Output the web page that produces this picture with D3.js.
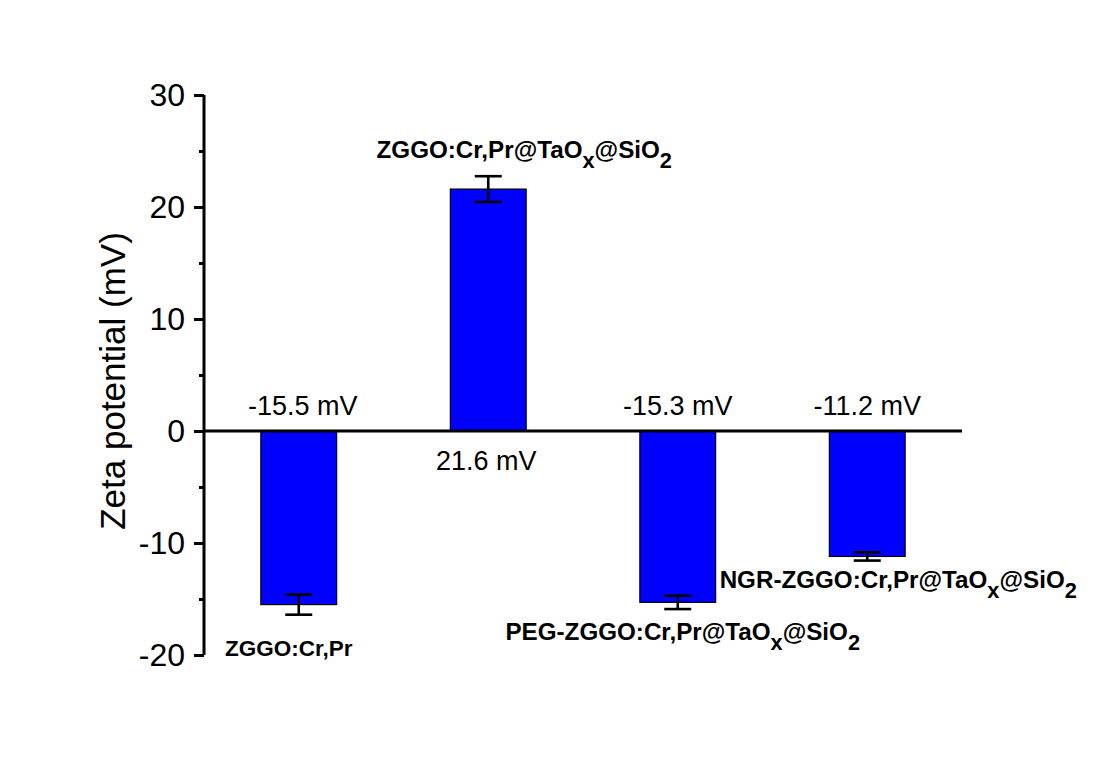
<!DOCTYPE html>
<html>
<head>
<meta charset="utf-8">
<script src="https://cdn.jsdelivr.net/npm/d3@7"></script>
<style>
  html, body { margin: 0; padding: 0; background: #fff; }
  svg { display: block; }
  text { font-family: "Liberation Sans", Arial, sans-serif; }
</style>
</head>
<body>
<svg id="chart" width="1100" height="774"></svg>
<script>
// ---- data ----
const categories = ["ZGGO:Cr,Pr", "ZGGO:Cr,Pr@TaOx@SiO2", "PEG-ZGGO:Cr,Pr@TaOx@SiO2", "NGR-ZGGO:Cr,Pr@TaOx@SiO2"];
const values = [-15.5, 21.6, -15.3, -11.2];
const errors = [0.9, 1.15, 0.6, 0.37];
const valueLabels = ["-15.5 mV", "21.6 mV", "-15.3 mV", "-11.2 mV"];
// category label parts: [text, isSubscript]
const categoryParts = [
  [["ZGGO:Cr,Pr", false]],
  [["ZGGO:Cr,Pr@TaO", false], ["x", true], ["@SiO", false], ["2", true]],
  [["PEG-ZGGO:Cr,Pr@TaO", false], ["x", true], ["@SiO", false], ["2", true]],
  [["NGR-ZGGO:Cr,Pr@TaO", false], ["x", true], ["@SiO", false], ["2", true]]
];
const yMajorTicks = [-20, -10, 0, 10, 20, 30];
const yMinorTicks = [-15, -5, 5, 15, 25];
const yTitle = "Zeta potential (mV)";

// ---- layout ----
const svg = d3.select("#chart");
const axisX = 204, axisRight = 962;
const y = d3.scaleLinear().domain([-20, 30]).range([655, 95]);
const x = d3.scaleBand().domain(categories).range([axisX, axisRight]).paddingInner(0.6).paddingOuter(0.3);

// label placement (layout)
const catLabelLayout = [
  { cx: -10, baseline: 656, size: 22.5 },
  { cx: 36, baseline: 158, size: 24.2 },
  { cx: 5, baseline: 640, size: 24.2 },
  { cx: 31, baseline: 588, size: 24.2 }
];

// bars
svg.append("g").selectAll("rect").data(values).join("rect")
  .attr("x", (d, i) => x(categories[i]))
  .attr("width", x.bandwidth())
  .attr("y", d => y(Math.max(0, d)))
  .attr("height", d => Math.abs(y(d) - y(0)))
  .attr("fill", "#0000FF")
  .attr("stroke", "#000")
  .attr("stroke-width", 1.2);

// error bars
const eg = svg.append("g").attr("stroke", "#000").attr("stroke-width", 2.6);
values.forEach((v, i) => {
  const cx = x(categories[i]) + x.bandwidth() / 2;
  const cap = 13.5;
  eg.append("line").attr("x1", cx).attr("x2", cx).attr("y1", y(v - errors[i])).attr("y2", y(v + errors[i]));
  eg.append("line").attr("x1", cx - cap).attr("x2", cx + cap).attr("y1", y(v - errors[i])).attr("y2", y(v - errors[i]));
  eg.append("line").attr("x1", cx - cap).attr("x2", cx + cap).attr("y1", y(v + errors[i])).attr("y2", y(v + errors[i]));
});

// zero line
svg.append("line")
  .attr("x1", axisX).attr("x2", axisRight)
  .attr("y1", y(0)).attr("y2", y(0))
  .attr("stroke", "#000").attr("stroke-width", 3);

// y axis
const yAxis = d3.axisLeft(y).tickValues(yMajorTicks).tickSize(10).tickPadding(9).tickFormat(d => String(d));
const gy = svg.append("g").attr("transform", `translate(${axisX},0)`).call(yAxis);
gy.select(".domain").attr("stroke-width", 3).attr("d", `M0,${y(-20)}V${y(30)}`);
gy.selectAll(".tick line").attr("stroke-width", 3);
gy.selectAll(".tick text").attr("font-size", 32).attr("fill", "#000")
  .attr("font-family", "'Liberation Sans', Arial, sans-serif");
const yMinor = d3.axisLeft(y).tickValues(yMinorTicks).tickSize(5).tickFormat("");
const gym = svg.append("g").attr("transform", `translate(${axisX},0)`).call(yMinor);
gym.select(".domain").remove();
gym.selectAll(".tick line").attr("stroke-width", 3);

// y title
svg.append("text")
  .attr("transform", `translate(125,381) rotate(-90)`)
  .attr("text-anchor", "middle")
  .attr("font-size", 35)
  .attr("fill", "#000")
  .text(yTitle);

// value labels
svg.append("g").selectAll("text").data(valueLabels).join("text")
  .attr("x", (d, i) => x(categories[i]) + x.bandwidth() / 2 + (i === 0 ? 4 : (i === 1 ? -2 : 0)))
  .attr("y", (d, i) => values[i] < 0 ? y(0) - 16 : y(0) + 39)
  .attr("text-anchor", "middle")
  .attr("font-size", 27)
  .attr("fill", "#000")
  .text(d => d);

// category labels with subscripts
categoryParts.forEach((parts, i) => {
  const L = catLabelLayout[i];
  const cx = x(categories[i]) + x.bandwidth() / 2 + L.cx;
  const t = svg.append("text")
    .attr("x", cx)
    .attr("y", L.baseline)
    .attr("text-anchor", "middle")
    .attr("font-weight", "bold")
    .attr("font-size", L.size)
    .attr("fill", "#000");
  let shifted = false;
  parts.forEach(([txt, sub]) => {
    const ts = t.append("tspan").text(txt);
    if (sub) { ts.attr("dy", 10).attr("font-size", L.size * 0.9); shifted = true; }
    else if (shifted) { ts.attr("dy", -10); shifted = false; }
  });
});
</script>
</body>
</html>
